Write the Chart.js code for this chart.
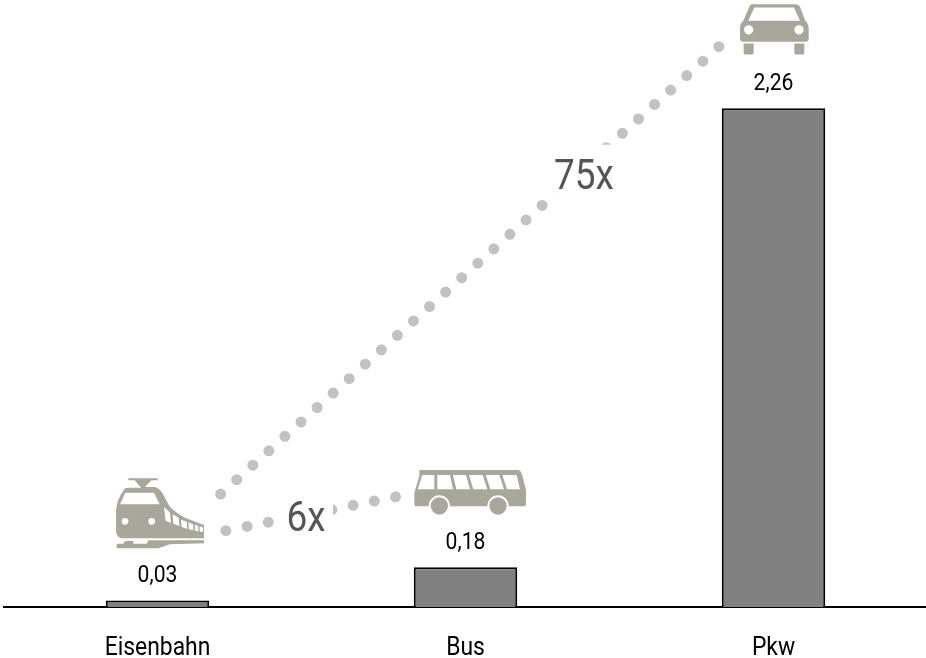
<!DOCTYPE html>
<html><head><meta charset="utf-8">
<style>html,body{margin:0;padding:0;background:#fff;overflow:hidden}canvas{display:block}</style>
<script src="https://cdn.jsdelivr.net/npm/chart.js@4"></script></head>
<body><canvas id="c" width="932" height="658" style="width:932px;height:658px"></canvas>
<script>
const categories = ['Eisenbahn', 'Bus', 'Pkw'];
const values = [0.03, 0.18, 2.26];
const valueLabels = ['0,03', '0,18', '2,26'];
const longDots = [{x: 0.705, y: 0.5115}, {x: 2.324, y: 2.54}];
const shortDots = [{x: 0.722, y: 0.346}, {x: 1.273, y: 0.499}];
const ratioLabels = ['6x', '75x'];

const GREY = '#a9a79c';
const FAMILY = 'Roboto';
const NARROW = 0.88;

function narrowText(ctx, text, x, y, size, color, weight) {
  ctx.save();
  ctx.font = (weight || 400) + ' ' + size + 'px ' + FAMILY;
  ctx.fillStyle = color;
  ctx.textAlign = 'center';
  ctx.textBaseline = 'middle';
  ctx.translate(x, y);
  ctx.scale(NARROW, 1);
  ctx.fillText(text, 0, 0);
  ctx.restore();
}

const icons = {
  train: {
    dx: -67.5, dy: -139.4,
    body: [
      'M115 52H203V58H184L165 78H195Q212 84 222 105L238 135Q255 155 285 170L342 192V232H92Q78 225 78 210V150Q80 115 100 90Q104 80 115 80H153L134 58H115Z',
      'M80 262V248H100L105 240H130V248H170L175 238H342V247L240 250L205 262Z'
    ],
    holes: [
      'M90 130L106 95H192L209 130Z',
      'M222 138L240 155L243 186L227 179Z',
      'M248 160L266 170L268 195L250 188Z',
      'M273 176L290 182L292 204L275 198Z',
      'M295 184L309 190L310 208L297 205Z',
      'M314 191L325 195L326 211L315 209Z',
      'M329 196L339 199L339 213L330 212Z'
    ],
    circles: [[105, 181, 10], [185, 181, 10]]
  },
  bus: {
    dx: -85.5, dy: -116.3,
    body: ['M118 57H415Q422 58 426 70L438 118V158Q438 166 430 166H110Q103 166 103 158V125L118 75Z'],
    holes: [
      'M127 72H163V115H113Z',
      'M172 72H210L219 115H172Z',
      'M219 72H258L270 115H229Z',
      'M267 72H308L322 115H280Z',
      'M317 72H358L372 115H331Z',
      'M367 72H410L420 115H381Z'
    ],
    wheels: [[178, 165], [354, 165]]
  },
  car: {
    dx: -83.5, dy: -108,
    body: [
      'M185 12H318Q325 12 330 20L345 60Q356 70 356 85V115Q356 125 346 125H160Q150 125 150 115V85Q150 70 160 62L178 20Q180 12 185 12Z',
      'M161 130H191V158Q191 163 186 163H166Q161 163 161 158Z',
      'M313 130H343V158Q343 163 338 163H318Q313 163 313 158Z'
    ],
    holes: ['M193 22H312L330 62H175Z'],
    circles: [[176, 89, 14], [327, 89, 14]]
  }
};
const iconOrder = ['train', 'bus', 'car'];

function drawIcon(ctx, ic, px, py) {
  ctx.save();
  ctx.translate(px + ic.dx, py + ic.dy);
  ctx.scale(1 / 3, 1 / 3);
  ctx.fillStyle = GREY;
  ic.body.forEach(d => ctx.fill(new Path2D(d)));
  ctx.fillStyle = '#fff';
  (ic.holes || []).forEach(d => ctx.fill(new Path2D(d)));
  (ic.circles || []).forEach(c => { ctx.beginPath(); ctx.arc(c[0], c[1], c[2], 0, 7); ctx.fill(); });
  (ic.wheels || []).forEach(w => {
    ctx.fillStyle = '#fff'; ctx.beginPath(); ctx.arc(w[0], w[1], 32, 0, 7); ctx.fill();
    ctx.fillStyle = GREY; ctx.beginPath(); ctx.arc(w[0], w[1], 26, 0, 7); ctx.fill();
  });
  ctx.restore();
}

const overlay = {
  id: 'overlay',
  afterDatasetsDraw(chart) {
    const ctx = chart.ctx, x = chart.scales.x, y = chart.scales.y;
    ctx.save();
    ctx.fillStyle = '#fff';
    ctx.fillRect(279, 490, 54, 50);
    ctx.fillRect(550, 144.7, 64, 52);
    ctx.restore();
    narrowText(ctx, ratioLabels[0], 306, 520, 42, '#555555');
    narrowText(ctx, ratioLabels[1], 584, 178, 42, '#555555');
    values.forEach((v, i) => {
      const px = x.getPixelForValue(i), py = y.getPixelForValue(v);
      narrowText(ctx, valueLabels[i], px, py - 24, 24, '#000000', 450);
      narrowText(ctx, categories[i], px, 648, 26, '#000000', 450);
      drawIcon(ctx, icons[iconOrder[i]], px, py);
    });
  }
};

new Chart(document.getElementById('c'), {
  type: 'bar',
  data: {
    labels: categories,
    datasets: [
      { type: 'bar', data: values, backgroundColor: '#808080', borderColor: '#000000', borderWidth: 2, grouped: false,
        barPercentage: 0.336, categoryPercentage: 1, xAxisID: 'x', yAxisID: 'y', order: 1 },
      { type: 'line', data: longDots, borderColor: '#c2c2c2', borderWidth: 11, borderDash: [0, 21.6],
        borderCapStyle: 'round', pointRadius: 0, tension: 0, xAxisID: 'x2', yAxisID: 'y', order: 2 },
      { type: 'line', data: shortDots, borderColor: '#c2c2c2', borderWidth: 11, borderDash: [0, 21.62],
        borderCapStyle: 'round', pointRadius: 0, tension: 0, xAxisID: 'x2', yAxisID: 'y', order: 2 }
    ]
  },
  options: {
    responsive: false,
    animation: false,
    layout: { padding: { left: 3.5, right: 4.5, top: 0, bottom: 51 } },
    plugins: { legend: { display: false }, tooltip: { enabled: false } },
    scales: {
      x: { type: 'category', grid: { display: false, drawTicks: false },
           border: { color: '#000000', width: 2 }, ticks: { display: false } },
      x2: { type: 'linear', display: false, min: 0, max: 3, offset: false },
      y: { display: false, min: 0, max: 2.75 }
    }
  },
  plugins: [overlay]
});
</script></body></html>
